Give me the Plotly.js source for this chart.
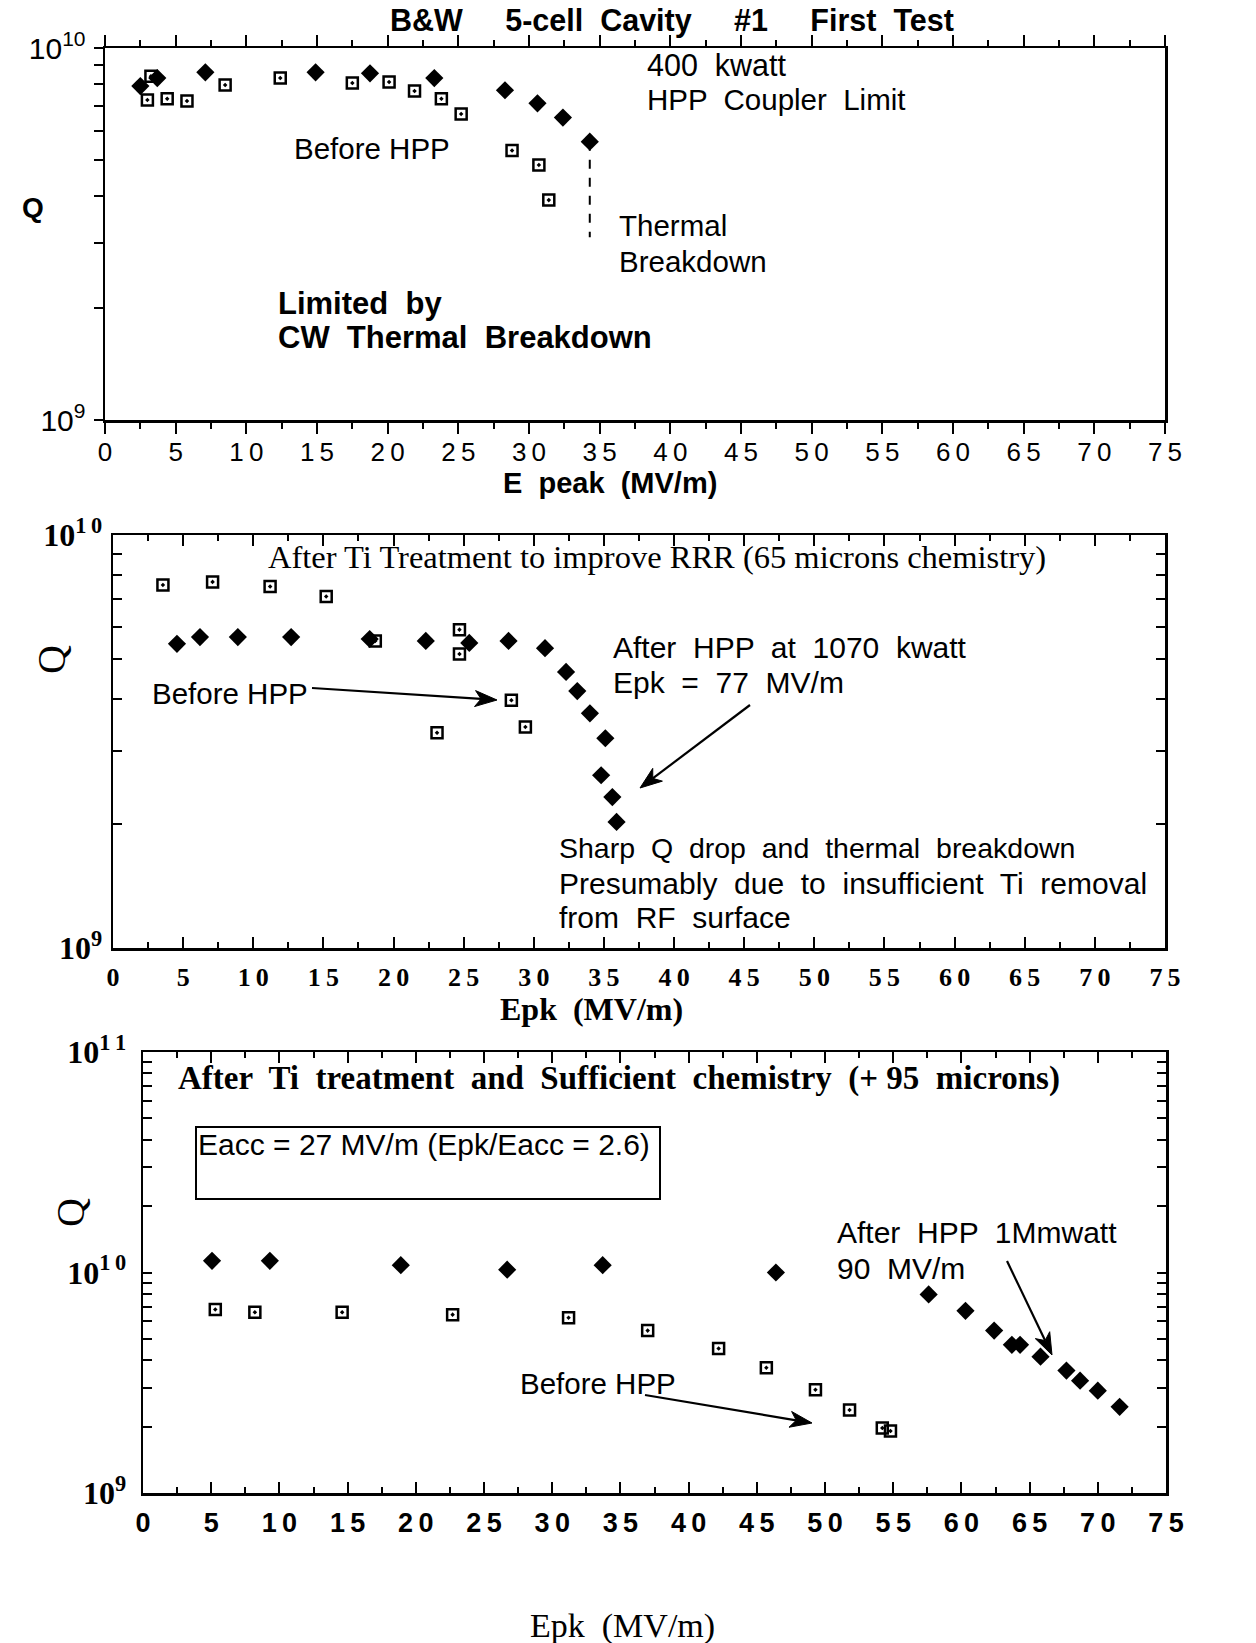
<!DOCTYPE html>
<html>
<head>
<meta charset="utf-8">
<script src="https://cdn.plot.ly/plotly-3.0.1.min.js"></script>
<style>
html,body{margin:0;padding:0;background:#fff;}
#chart{width:1256px;height:1643px;}
</style>
</head>
<body>
<div id="chart"></div>
<script>
// ---------- DATA ----------
// Panel 1: B&W 5-cell Cavity #1 First Test
const p1AfterX  = [2.5, 3.7, 7.1, 14.9, 18.75, 23.3, 28.3, 30.6, 32.4, 34.3];
const p1AfterQ  = [7.9e9, 8.3e9, 8.6e9, 8.6e9, 8.55e9, 8.3e9, 7.7e9, 7.1e9, 6.5e9, 5.6e9];
const p1BeforeX = [3.25, 3.0, 4.4, 5.8, 8.5, 12.4, 17.5, 20.1, 21.9, 23.8, 25.2, 28.8, 30.7, 31.4];
const p1BeforeQ = [8.4e9, 7.25e9, 7.3e9, 7.2e9, 7.95e9, 8.3e9, 8.05e9, 8.1e9, 7.66e9, 7.3e9, 6.65e9, 5.3e9, 4.85e9, 3.9e9];
const p1BreakX  = [34.3, 34.3];
const p1BreakQ  = [5.6e9, 3.1e9];

// Panel 2: After Ti treatment (65 microns chemistry)
const p2BeforeX = [3.56, 7.1, 11.2, 15.2, 18.7, 24.7, 24.7, 28.4, 29.4, 23.1];
const p2BeforeQ = [7.57e9, 7.7e9, 7.5e9, 7.1e9, 5.54e9, 5.9e9, 5.15e9, 3.98e9, 3.43e9, 3.32e9];
const p2AfterX  = [4.56, 6.2, 8.9, 12.7, 18.3, 22.3, 25.4, 28.2, 30.8, 32.3, 33.1, 34.0, 35.1, 34.8, 35.6, 35.9];
const p2AfterQ  = [5.45e9, 5.66e9, 5.66e9, 5.66e9, 5.6e9, 5.54e9, 5.48e9, 5.54e9, 5.32e9, 4.66e9, 4.19e9, 3.7e9, 3.22e9, 2.62e9, 2.32e9, 2.02e9];

// Panel 3: After Ti treatment and sufficient chemistry (+95 microns)
const p3AfterX  = [5.06, 9.3, 18.9, 26.7, 33.7, 46.4, 57.6, 60.3, 62.4, 63.7, 64.3, 65.8, 67.7, 68.7, 70.0, 71.6];
const p3AfterQ  = [1.13e10, 1.13e10, 1.08e10, 1.03e10, 1.08e10, 1.0e10, 7.95e9, 6.7e9, 5.45e9, 4.7e9, 4.7e9, 4.15e9, 3.59e9, 3.23e9, 2.91e9, 2.46e9];
const p3BeforeX = [5.3, 8.2, 14.6, 22.7, 31.2, 37.0, 42.2, 45.7, 49.3, 51.8, 54.2, 54.8];
const p3BeforeQ = [6.8e9, 6.6e9, 6.6e9, 6.44e9, 6.24e9, 5.45e9, 4.52e9, 3.7e9, 2.94e9, 2.38e9, 1.97e9, 1.91e9];

// Tick labels
const xTickVals = [0,5,10,15,20,25,30,35,40,45,50,55,60,65,70,75];
const xTickText = ['0','5','1\u20090','1\u20095','2\u20090','2\u20095','3\u20090','3\u20095','4\u20090','4\u20095','5\u20090','5\u20095','6\u20090','6\u20095','7\u20090','7\u20095'];
const yMajor9to10  = [1e9, 1e10];
const yMinor9to10  = [2e9,3e9,4e9,5e9,6e9,7e9,8e9,9e9];
const yText9to10   = ['10<sup>9</sup>','10<sup>10</sup>'];
const yText9to10s  = ['10<sup>9</sup>','10<sup>1\u20090</sup>'];
const yMajor9to11  = [1e9, 1e10, 1e11];
const yMinor9to11  = [2e9,3e9,4e9,5e9,6e9,7e9,8e9,9e9,2e10,3e10,4e10,5e10,6e10,7e10,8e10,9e10];
const yText9to11   = ['10<sup>9</sup>','10<sup>1\u20090</sup>','10<sup>1\u20091</sup>'];

// ---------- LAYOUT HELPERS ----------
const W = 1256, H = 1643;
const px = v => v / W;
const py = v => 1 - v / H;
const SANS = 'Liberation Sans, Arial, Helvetica, sans-serif';
const SERIF = 'Liberation Serif, Times New Roman, serif';

const diamond = {symbol:'diamond', size:14, color:'#000', line:{width:0}};
const square  = {symbol:'square-open-dot', size:11, color:'#000', line:{width:2.5, color:'#000'}};

const traces = [
  {x:p1AfterX, y:p1AfterQ, xaxis:'x', yaxis:'y', mode:'markers', marker:diamond, name:'After HPP'},
  {x:p1BeforeX, y:p1BeforeQ, xaxis:'x', yaxis:'y', mode:'markers', marker:square, name:'Before HPP'},
  {x:p1BreakX, y:p1BreakQ, xaxis:'x', yaxis:'y', mode:'lines', line:{color:'#000', width:2, dash:'dash'}, name:'Thermal breakdown'},
  {x:p2BeforeX, y:p2BeforeQ, xaxis:'x2', yaxis:'y2', mode:'markers', marker:square, name:'Before HPP'},
  {x:p2AfterX, y:p2AfterQ, xaxis:'x2', yaxis:'y2', mode:'markers', marker:diamond, name:'After HPP'},
  {x:p3BeforeX, y:p3BeforeQ, xaxis:'x3', yaxis:'y3', mode:'markers', marker:square, name:'Before HPP'},
  {x:p3AfterX, y:p3AfterQ, xaxis:'x3', yaxis:'y3', mode:'markers', marker:diamond, name:'After HPP'}
];

function xAxis(domain, anchor, ticks, font, standoff) {
  return {
    domain: domain, anchor: anchor, range: [0, 75], autorange: false,
    tickmode: 'array', tickvals: xTickVals, ticktext: xTickText,
    ticks: ticks, ticklen: 11, tickwidth: 2, tickcolor: '#000',
    minor: {dtick: 2.5, tick0: 0, ticks: ticks, ticklen: 6, tickwidth: 2, tickcolor: '#000'},
    showline: true, linewidth: 2.5, linecolor: '#000', mirror: 'ticks',
    showgrid: false, zeroline: false, tickfont: font, ticklabelstandoff: standoff
  };
}
function yAxis(domain, anchor, range, major, minor, text, ticks, font, mirror, standoff) {
  return {
    domain: domain, anchor: anchor, type: 'log', range: range, autorange: false,
    tickmode: 'array', tickvals: major, ticktext: text,
    ticks: ticks, ticklen: 9, tickwidth: 2, tickcolor: '#000',
    minor: {tickmode: 'array', tickvals: minor, ticks: ticks, ticklen: 9, tickwidth: 2, tickcolor: '#000', showgrid: false},
    showline: true, linewidth: 2.5, linecolor: '#000', mirror: mirror,
    showgrid: false, zeroline: false, tickfont: font, ticklabelstandoff: standoff
  };
}

function txt(text, x, y, font, opts) {
  return Object.assign({
    text: text, xref: 'paper', yref: 'paper', x: px(x), y: py(y),
    xanchor: 'left', yanchor: 'middle', showarrow: false, font: font
  }, opts || {});
}
// Arrow drawn as a line plus a filled, barbed head (pixel coords converted to paper)
function arrowShapes(tailX, tailY, headX, headY) {
  const dx = headX - tailX, dy = headY - tailY;
  const L = Math.hypot(dx, dy), ux = dx / L, uy = dy / L;
  const nx = -uy, ny = ux;
  const len = 22, half = 8, notch = 6;
  const bx = headX - ux * len, by = headY - uy * len;
  const mx = headX - ux * (len - notch), my = headY - uy * (len - notch);
  const P = (x, y) => px(x) + ',' + py(y);
  return [
    {type: 'line', xref: 'paper', yref: 'paper', x0: px(tailX), y0: py(tailY), x1: px(mx), y1: py(my),
     line: {color: '#000', width: 2.2}},
    {type: 'path', xref: 'paper', yref: 'paper',
     path: 'M' + P(headX, headY) + ' L' + P(bx + nx * half, by + ny * half) + ' L' + P(mx, my) +
           ' L' + P(bx - nx * half, by - ny * half) + ' Z',
     fillcolor: '#000', line: {color: '#000', width: 1}}
  ];
}

const fS = {family: SANS, size: 30, color: '#000'};
const fS1 = {family: SANS, size: 29.5, color: '#000'};
const fSB = {family: SANS, size: 31, color: '#000'};

const annotations = [
  // Panel 1
  txt('<b>B&amp;W     5-cell  Cavity     #1     First  Test</b>', 388, 20, {family: SANS, size: 30.5, color: '#000'}),
  txt('400  kwatt', 645, 65, {family: SANS, size: 30.5, color: '#000'}),
  txt('HPP  Coupler  Limit', 645, 99, fS1),
  txt('Before HPP', 292, 149, fS1),
  txt('Thermal', 617, 226, fS1),
  txt('Breakdown', 617, 261, fS1),
  txt('<b>Limited  by</b>', 276, 303, fSB),
  txt('<b>CW  Thermal  Breakdown</b>', 276, 338, fSB),
  txt('<b>Q</b>', 20, 207, {family: SANS, size: 28, color: '#000'}),
  txt('<b>E  peak  (MV/m)</b>', 610, 483, {family: SANS, size: 29, color: '#000'}, {xanchor: 'center'}),
  // Panel 2
  txt('After Ti Treatment to improve RRR (65 microns chemistry)', 266, 557, {family: SERIF, size: 32.5, color: '#000'}),
  txt('After  HPP  at  1070  kwatt', 611, 647, fS),
  txt('Epk  =  77  MV/m', 611, 682, fS),
  txt('Before HPP', 150, 693, fS1),
  txt('Sharp  Q  drop  and  thermal  breakdown', 557, 848, {family: SANS, size: 28.5, color: '#000'}),
  txt('Presumably  due  to  insufficient  Ti  removal', 557, 883, fS),
  txt('from  RF  surface', 557, 918, fS),
  txt('Q', 52, 660, {family: SERIF, size: 40, color: '#000'}, {xanchor: 'center', textangle: -90}),
  txt('<b>Epk  (MV/m)</b>', 591, 1009, {family: SERIF, size: 32, color: '#000'}, {xanchor: 'center'}),
  // Panel 3
  txt('<b>After  Ti  treatment  and  Sufficient  chemistry  (+ 95  microns)</b>', 176, 1078, {family: SERIF, size: 33, color: '#000'}),
  txt('Eacc = 27 MV/m (Epk/Eacc = 2.6)', 196, 1144, fS),
  txt('After  HPP  1Mmwatt', 835, 1232, fS),
  txt('90  MV/m', 835, 1268, fS),
  txt('Before HPP', 518, 1383, fS1),
  txt('Q', 70, 1213, {family: SERIF, size: 40, color: '#000'}, {xanchor: 'center', textangle: -90}),
  txt('Epk  (MV/m)', 622, 1626, {family: SERIF, size: 34, color: '#000'}, {xanchor: 'center'})
];

const shapes = [
  {type: 'rect', xref: 'paper', yref: 'paper', x0: px(196), x1: px(660), y0: py(1199), y1: py(1127),
   line: {color: '#000', width: 2}, fillcolor: 'rgba(0,0,0,0)'}
].concat(
  arrowShapes(312, 688, 497, 700),
  arrowShapes(750, 705, 640, 788),
  arrowShapes(1007, 1261, 1052, 1355),
  arrowShapes(645, 1395, 812, 1423)
);

const layout = {
  width: W, height: H, margin: {l: 0, r: 0, t: 0, b: 0},
  paper_bgcolor: '#fff', plot_bgcolor: '#fff', showlegend: false,
  xaxis:  xAxis([px(105), px(1165)], 'y', 'outside', {family: SANS, size: 26, color: '#000'}, -4),
  yaxis:  yAxis([py(420), py(48)], 'x', [9, 10], yMajor9to10, yMinor9to10, yText9to10, 'outside', {family: SANS, size: 30, color: '#000'}, true, 2),
  xaxis2: xAxis([px(113), px(1165)], 'y2', 'inside', {family: SERIF, size: 26, color: '#000', weight: 'bold'}, 4),
  yaxis2: yAxis([py(948), py(535)], 'x2', [9, 10], yMajor9to10, yMinor9to10, yText9to10s, 'inside', {family: SERIF, size: 32, color: '#000', weight: 'bold'}, 'ticks', 2),
  xaxis3: xAxis([px(143), px(1166)], 'y3', 'inside', {family: SANS, size: 27, color: '#000', weight: 'bold'}, 4),
  yaxis3: yAxis([py(1493), py(1052)], 'x3', [9, 11], yMajor9to11, yMinor9to11, yText9to11, 'inside', {family: SERIF, size: 32, color: '#000', weight: 'bold'}, 'ticks', 8),
  annotations: annotations,
  shapes: shapes
};

Plotly.newPlot('chart', traces, layout, {staticPlot: true, displayModeBar: false});
</script>
</body>
</html>
